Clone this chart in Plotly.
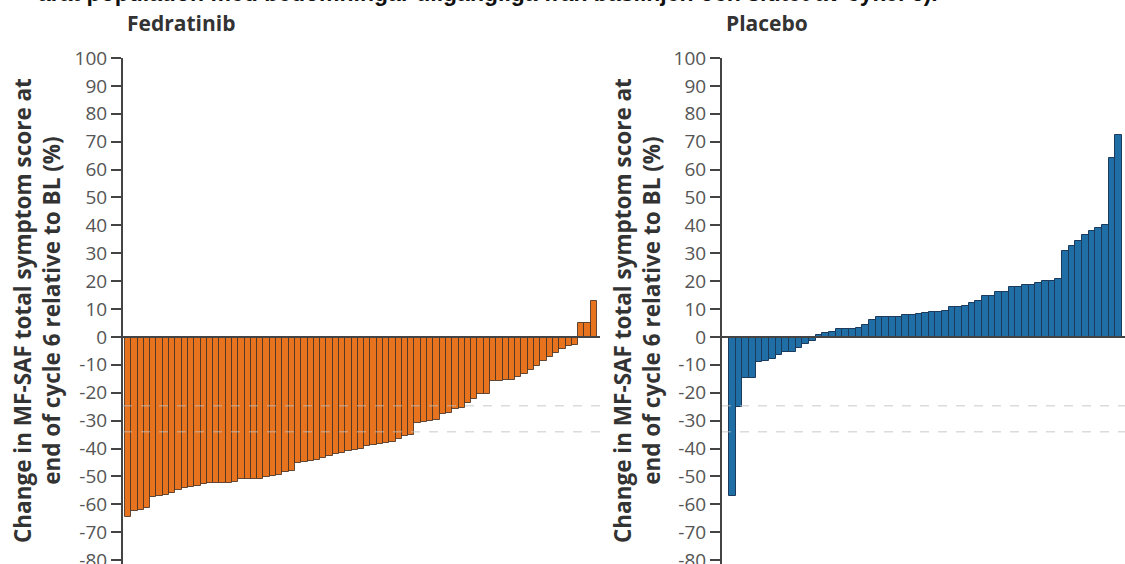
import plotly.graph_objects as go

# ---- data ----
fedratinib = [-64.5, -62.5, -62, -61.3, -57.3, -57, -56.5, -55.9, -55, -54.1,
              -53.9, -53.3, -52.7, -52.3, -52.3, -52.3, -52.3, -52, -51.1, -51.1,
              -50.9, -50.9, -50.2, -50, -49.5, -48.5, -48, -45.2, -45, -44.3,
              -44, -43.3, -42.8, -42, -41.5, -41, -40.4, -40, -39.2, -38.8,
              -38.5, -38, -37.5, -36.5, -35.5, -35, -31, -30.5, -30, -29.6,
              -27.8, -27.2, -26, -25.4, -23.7, -22.4, -20.6, -20.6, -15.9, -15.9,
              -15.3, -15.3, -14.2, -13.4, -11.9, -10.5, -8.7, -7.1, -5.7, -4.5,
              -3.4, -2.8, 5.1, 5.1, 12.8]
placebo = [-57, -25, -14.8, -14.8, -9, -8.5, -7.8, -6.3, -5.5, -5.3,
           -3.9, -2.7, -1.5, 0.8, 1.5, 1.7, 3, 3, 3, 3.2,
           4.2, 6, 7, 7, 7, 7.2, 8, 8, 8.2, 8.5,
           9, 9, 9.2, 10.6, 10.8, 11, 12, 12.8, 14.6, 14.8,
           16, 16.2, 17.8, 18, 18.5, 18.7, 19.5, 19.9, 20.2, 20.8,
           30.7, 32.7, 34.3, 36.7, 37.9, 39.1, 40.3, 64.2, 72.5]
panel_titles = ["Fedratinib", "Placebo"]
ref_lines = [-24.7, -34]
tick_vals = list(range(100, -90, -10))
tick_text = [str(v) for v in tick_vals]
y_title = "Change in MF-SAF total symptom score at<br>end of cycle 6 relative to BL (%)"
top_text = "arat population med bedömningar tillgängliga från baslinjen och slutet av cykel 6)."

W, H = 1125, 564
ORANGE = "#E8731F"
BLUE = "#1F6FA6"
AX = "#444444"

fig = go.Figure()
fig.add_trace(go.Bar(x=list(range(len(fedratinib))), y=fedratinib,
                     marker=dict(color=ORANGE, line=dict(color="rgba(70,50,35,0.85)", width=1)),
                     xaxis="x", yaxis="y", showlegend=False))
fig.add_trace(go.Bar(x=list(range(len(placebo))), y=placebo,
                     marker=dict(color=BLUE, line=dict(color="#1b3a5c", width=1)),
                     xaxis="x2", yaxis="y2", showlegend=False))

yax = dict(range=[-81.4, 100], tickvals=tick_vals, ticktext=tick_text,
           ticks="outside", ticklen=10, tickwidth=1.5, tickcolor=AX,
           showline=True, linecolor=AX, linewidth=2, showgrid=False, zeroline=False,
           ticklabeloverflow="allow", automargin=False,
           tickfont=dict(family="Open Sans", size=19, color="#555555"))
xax = dict(showticklabels=False, showgrid=False, zeroline=False, showline=False, ticks="",
           automargin=False)

nf, npl = len(fedratinib), len(placebo)
fig.update_layout(
    width=W, height=H,
    margin=dict(l=0, r=0, t=58, b=0),
    paper_bgcolor="white", plot_bgcolor="white",
    bargap=0,
    xaxis=dict(xax, domain=[123 / W, 600 / W], range=[-0.82, nf - 0.5 + 0.48]),
    xaxis2=dict(xax, domain=[722 / W, 1.0], range=[-1.55, npl - 0.5 + 0.45]),
    yaxis=dict(yax, anchor="x"),
    yaxis2=dict(yax, anchor="x2"),
)

# reference dashed lines and zero line
for xr, yr in [("x", "y"), ("x2", "y2")]:
    for v in ref_lines:
        fig.add_shape(type="line", xref=f"{xr} domain", yref=yr, x0=0, x1=1.0, y0=v, y1=v,
                      line=dict(color="rgba(190,190,190,0.55)", width=1.5, dash="dash"),
                      layer="above")
    fig.add_shape(type="line", xref=f"{xr} domain", yref=yr, x0=0, x1=1, y0=0, y1=0,
                  line=dict(color=AX, width=2), layer="above")

# axis titles
for xc in [37, 637]:
    fig.add_annotation(text=f"<b>{y_title}</b>", xref="paper", yref="paper",
                       x=xc / W, y=1 - (311 - 58) / (H - 58), textangle=-90,
                       showarrow=False, xanchor="center", yanchor="middle",
                       font=dict(family="Open Sans", size=22.5, color="#333333"),
                       align="center")

# panel titles
for xc, t in zip([181, 767], panel_titles):
    fig.add_annotation(text=f"<b>{t}</b>", xref="paper", yref="paper",
                       x=xc / W, y=1 + (58 - 23) / (H - 58), showarrow=False,
                       xanchor="center", yanchor="middle",
                       font=dict(family="Open Sans", size=21, color="#333333"))

# truncated top text
fig.add_annotation(text=f"<b>{top_text}</b>", xref="paper", yref="paper",
                   x=940 / W, y=1 + (58 + 7) / (H - 58), showarrow=False,
                   xanchor="right", yanchor="middle",
                   font=dict(family="Liberation Sans", size=23, color="#111111"))

fig.write_html("out.html", config={"displayModeBar": False},
               post_script="document.body.style.margin='0';document.body.style.overflow='hidden';")
